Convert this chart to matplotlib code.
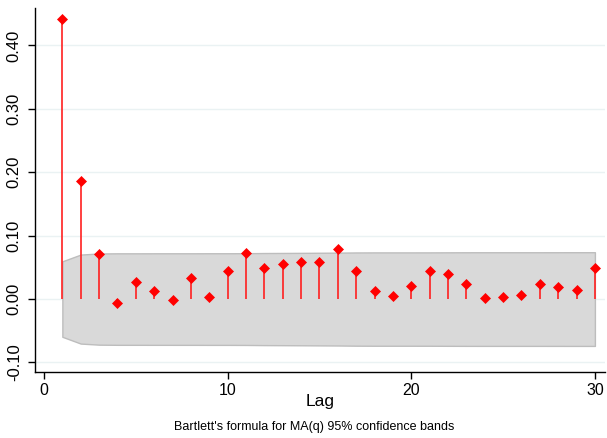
import numpy as np
import matplotlib
matplotlib.use("Agg")
import matplotlib.pyplot as plt

plt.rcParams['font.family'] = ['Liberation Sans', 'DejaVu Sans']

# Autocorrelations by lag
lags = list(range(1, 31))
acf = [0.442, 0.186, 0.071, -0.006, 0.027, 0.013, -0.001, 0.034, 0.003, 0.044,
       0.073, 0.049, 0.056, 0.059, 0.058, 0.079, 0.044, 0.012, 0.005, 0.021,
       0.045, 0.040, 0.024, 0.001, 0.003, 0.007, 0.024, 0.019, 0.014, 0.049]
n_obs = 1085

x_ticks = [0, 10, 20, 30]
y_ticks = [-0.10, 0.00, 0.10, 0.20, 0.30, 0.40]

# Bartlett's formula for MA(q) 95% confidence bands
r = np.asarray(acf)
cum = np.concatenate([[0.0], np.cumsum(r[:-1] ** 2)])
band = 1.959964 * np.sqrt((1 + 2 * cum) / n_obs)

fig = plt.figure(figsize=(6.07, 4.38), dpi=100)
ax = fig.add_axes([35 / 607, 1 - 372 / 438, (605 - 35) / 607, (372 - 8) / 438])

ax.fill_between(lags, -band, band, facecolor='#d9d9d9', edgecolor='#bdbdbd',
                linewidth=1.0, zorder=1)
ax.vlines(lags, 0, acf, colors='#ff2020', linewidth=1.2, zorder=3)
ax.plot(lags, acf, linestyle='none', marker='D', markersize=5.5,
        color='#ff0000', markeredgewidth=0.5, zorder=4)

ax.set_xlim(-0.49, 30.55)
ax.set_ylim(-0.115, 0.459)
ax.set_xticks(x_ticks)
ax.set_xticklabels([str(t) for t in x_ticks])
ax.set_yticks(y_ticks)
ax.set_yticklabels([f"{t:.2f}" for t in y_ticks], rotation=90, va='center')
ax.yaxis.grid(True, color='#eaf2f3', linewidth=1.0, zorder=0)
ax.set_axisbelow(True)

for s in ['top', 'right']:
    ax.spines[s].set_visible(False)
for s in ['left', 'bottom']:
    ax.spines[s].set_linewidth(1.0)
    ax.spines[s].set_color('black')

ax.tick_params(axis='both', direction='out', length=5, width=1, colors='black')
ax.tick_params(axis='y', pad=4.5, labelsize=12)
ax.tick_params(axis='x', pad=3, labelsize=11.5)

ax.set_xlabel('Lag', fontsize=12.5, labelpad=-3)
fig.text(314 / 607, 1 - 427 / 438, "Bartlett's formula for MA(q) 95% confidence bands",
         ha='center', va='center', fontsize=9)

fig.savefig('out.png', dpi=100, facecolor='white')
